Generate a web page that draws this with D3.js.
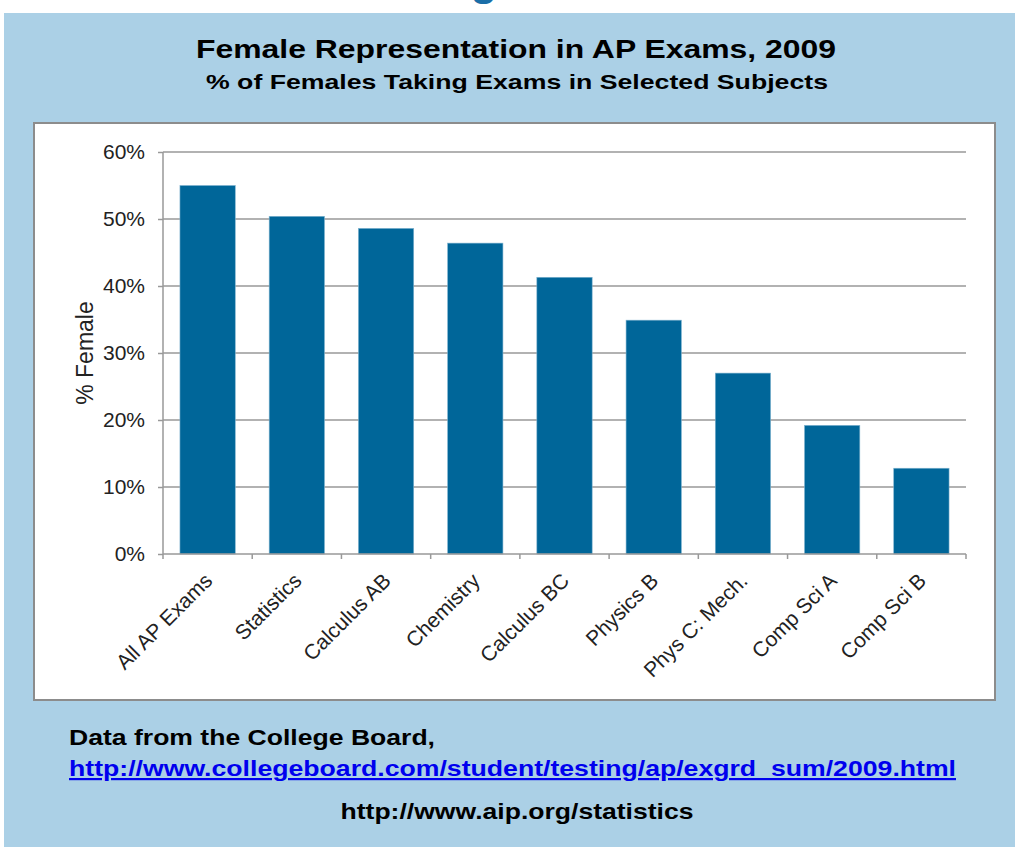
<!DOCTYPE html>
<html>
<head>
<meta charset="utf-8">
<script src="https://cdn.jsdelivr.net/npm/d3@7"></script>
<style>
  body { margin: 0; background: #fff; }
  svg { display: block; font-family: "Liberation Sans", Arial, sans-serif; }
</style>
</head>
<body>
<script>
// data
const categories = ["All AP Exams", "Statistics", "Calculus AB", "Chemistry", "Calculus BC",
                    "Physics B", "Phys C: Mech.", "Comp Sci A", "Comp Sci B"];
const pctFemale = [55.0, 50.4, 48.6, 46.4, 41.3, 34.9, 27.0, 19.2, 12.8];
const yTicks = [0, 10, 20, 30, 40, 50, 60];

const W = 1015, H = 847;
const plot = { left: 163, right: 966, top: 152, bottom: 554 }; // plot area
const box = { x: 34, y: 123, w: 961, h: 577 };                    // white chart box

const svg = d3.select("body").append("svg")
    .attr("width", W)
    .attr("height", H);

// cut-off heading above the panel (only its descender shows)
svg.append("text")
    .attr("x", 484).attr("y", -5)
    .attr("text-anchor", "middle")
    .attr("font-size", 44).attr("font-weight", "bold")
    .attr("fill", "#1a6ea8")
    .text("g");

// light blue panel
svg.append("rect")
    .attr("x", 4).attr("y", 13)
    .attr("width", W - 4).attr("height", H - 13)
    .attr("fill", "#abd0e6");

svg.append("text")
    .attr("x", 516).attr("y", 58)
    .attr("text-anchor", "middle")
    .attr("font-size", 26).attr("font-weight", "bold")
    .attr("textLength", 640).attr("lengthAdjust", "spacingAndGlyphs")
    .text("Female Representation in AP Exams, 2009");

svg.append("text")
    .attr("x", 517).attr("y", 89)
    .attr("text-anchor", "middle")
    .attr("font-size", 21).attr("font-weight", "bold")
    .attr("textLength", 622).attr("lengthAdjust", "spacingAndGlyphs")
    .text("% of Females Taking Exams in Selected Subjects");

// chart box
svg.append("rect")
    .attr("x", box.x).attr("y", box.y)
    .attr("width", box.w).attr("height", box.h)
    .attr("fill", "#fff")
    .attr("stroke", "#8c8c8c")
    .attr("stroke-width", 2);

const x = d3.scaleBand()
    .domain(categories)
    .range([plot.left, plot.right])
    .paddingInner(0.38)
    .paddingOuter(0.19);

const y = d3.scaleLinear()
    .domain([0, 60])
    .range([plot.bottom, plot.top]);

// gridlines
svg.append("g")
    .selectAll("line")
    .data(yTicks.filter(d => d > 0))
    .join("line")
    .attr("x1", plot.left).attr("x2", plot.right)
    .attr("y1", d => y(d)).attr("y2", d => y(d))
    .attr("stroke", "#999")
    .attr("stroke-width", 1.5);

// bars
svg.append("g")
    .selectAll("rect")
    .data(categories)
    .join("rect")
    .attr("x", d => x(d))
    .attr("y", (d, i) => y(pctFemale[i]))
    .attr("width", x.bandwidth())
    .attr("height", (d, i) => y(0) - y(pctFemale[i]))
    .attr("fill", "#006699")
    .attr("stroke", "#7fb3cf")
    .attr("stroke-width", 0.6);

// y axis
const yAxis = svg.append("g")
    .attr("transform", `translate(${plot.left},0)`)
    .call(d3.axisLeft(y).tickValues(yTicks).tickFormat(d => d + "%").tickSize(5).tickPadding(13));
yAxis.selectAll("line, path").attr("stroke", "#999").attr("stroke-width", 1.5);
yAxis.select(".domain").attr("d", `M0,${plot.top}V${plot.bottom}`);
yAxis.selectAll("text")
    .attr("font-size", 21)
    .attr("fill", "#222")
    .attr("font-family", "Liberation Sans, Arial, sans-serif");

// x axis: ticks at band edges
const edges = categories.map(c => x(c) - x.step() * x.paddingInner() / 2).concat([plot.right]);
const xAxis = svg.append("g");
xAxis.append("line")
    .attr("x1", plot.left).attr("x2", plot.right)
    .attr("y1", plot.bottom).attr("y2", plot.bottom)
    .attr("stroke", "#999").attr("stroke-width", 1.5);
xAxis.selectAll(".tick")
    .data(edges)
    .join("line")
    .attr("x1", d => d).attr("x2", d => d)
    .attr("y1", plot.bottom).attr("y2", plot.bottom + 5)
    .attr("stroke", "#999").attr("stroke-width", 1.5);

xAxis.selectAll("text")
    .data(categories)
    .join("text")
    .attr("transform", d => `translate(${x(d) + x.bandwidth() / 2 + 6},${plot.bottom + 28}) rotate(-45)`)
    .attr("text-anchor", "end")
    .attr("font-size", 21)
    .attr("fill", "#222")
    .text(d => d);

// y title
svg.append("text")
    .attr("transform", `translate(93,${(plot.top + plot.bottom) / 2}) rotate(-90)`)
    .attr("text-anchor", "middle")
    .attr("font-size", 23)
    .attr("fill", "#222")
    .text("% Female");

// footer
svg.append("text")
    .attr("x", 69).attr("y", 745)
    .attr("font-size", 22).attr("font-weight", "bold")
    .attr("textLength", 366).attr("lengthAdjust", "spacingAndGlyphs")
    .text("Data from the College Board,");

svg.append("text")
    .attr("x", 69).attr("y", 776)
    .attr("font-size", 22).attr("font-weight", "bold")
    .attr("fill", "#0000ee")
    .attr("text-decoration", "underline")
    .attr("textLength", 887).attr("lengthAdjust", "spacingAndGlyphs")
    .text("http://www.collegeboard.com/student/testing/ap/exgrd_sum/2009.html");

svg.append("text")
    .attr("x", 517).attr("y", 819)
    .attr("text-anchor", "middle")
    .attr("font-size", 22).attr("font-weight", "bold")
    .attr("textLength", 353).attr("lengthAdjust", "spacingAndGlyphs")
    .text("http://www.aip.org/statistics");
</script>
</body>
</html>
